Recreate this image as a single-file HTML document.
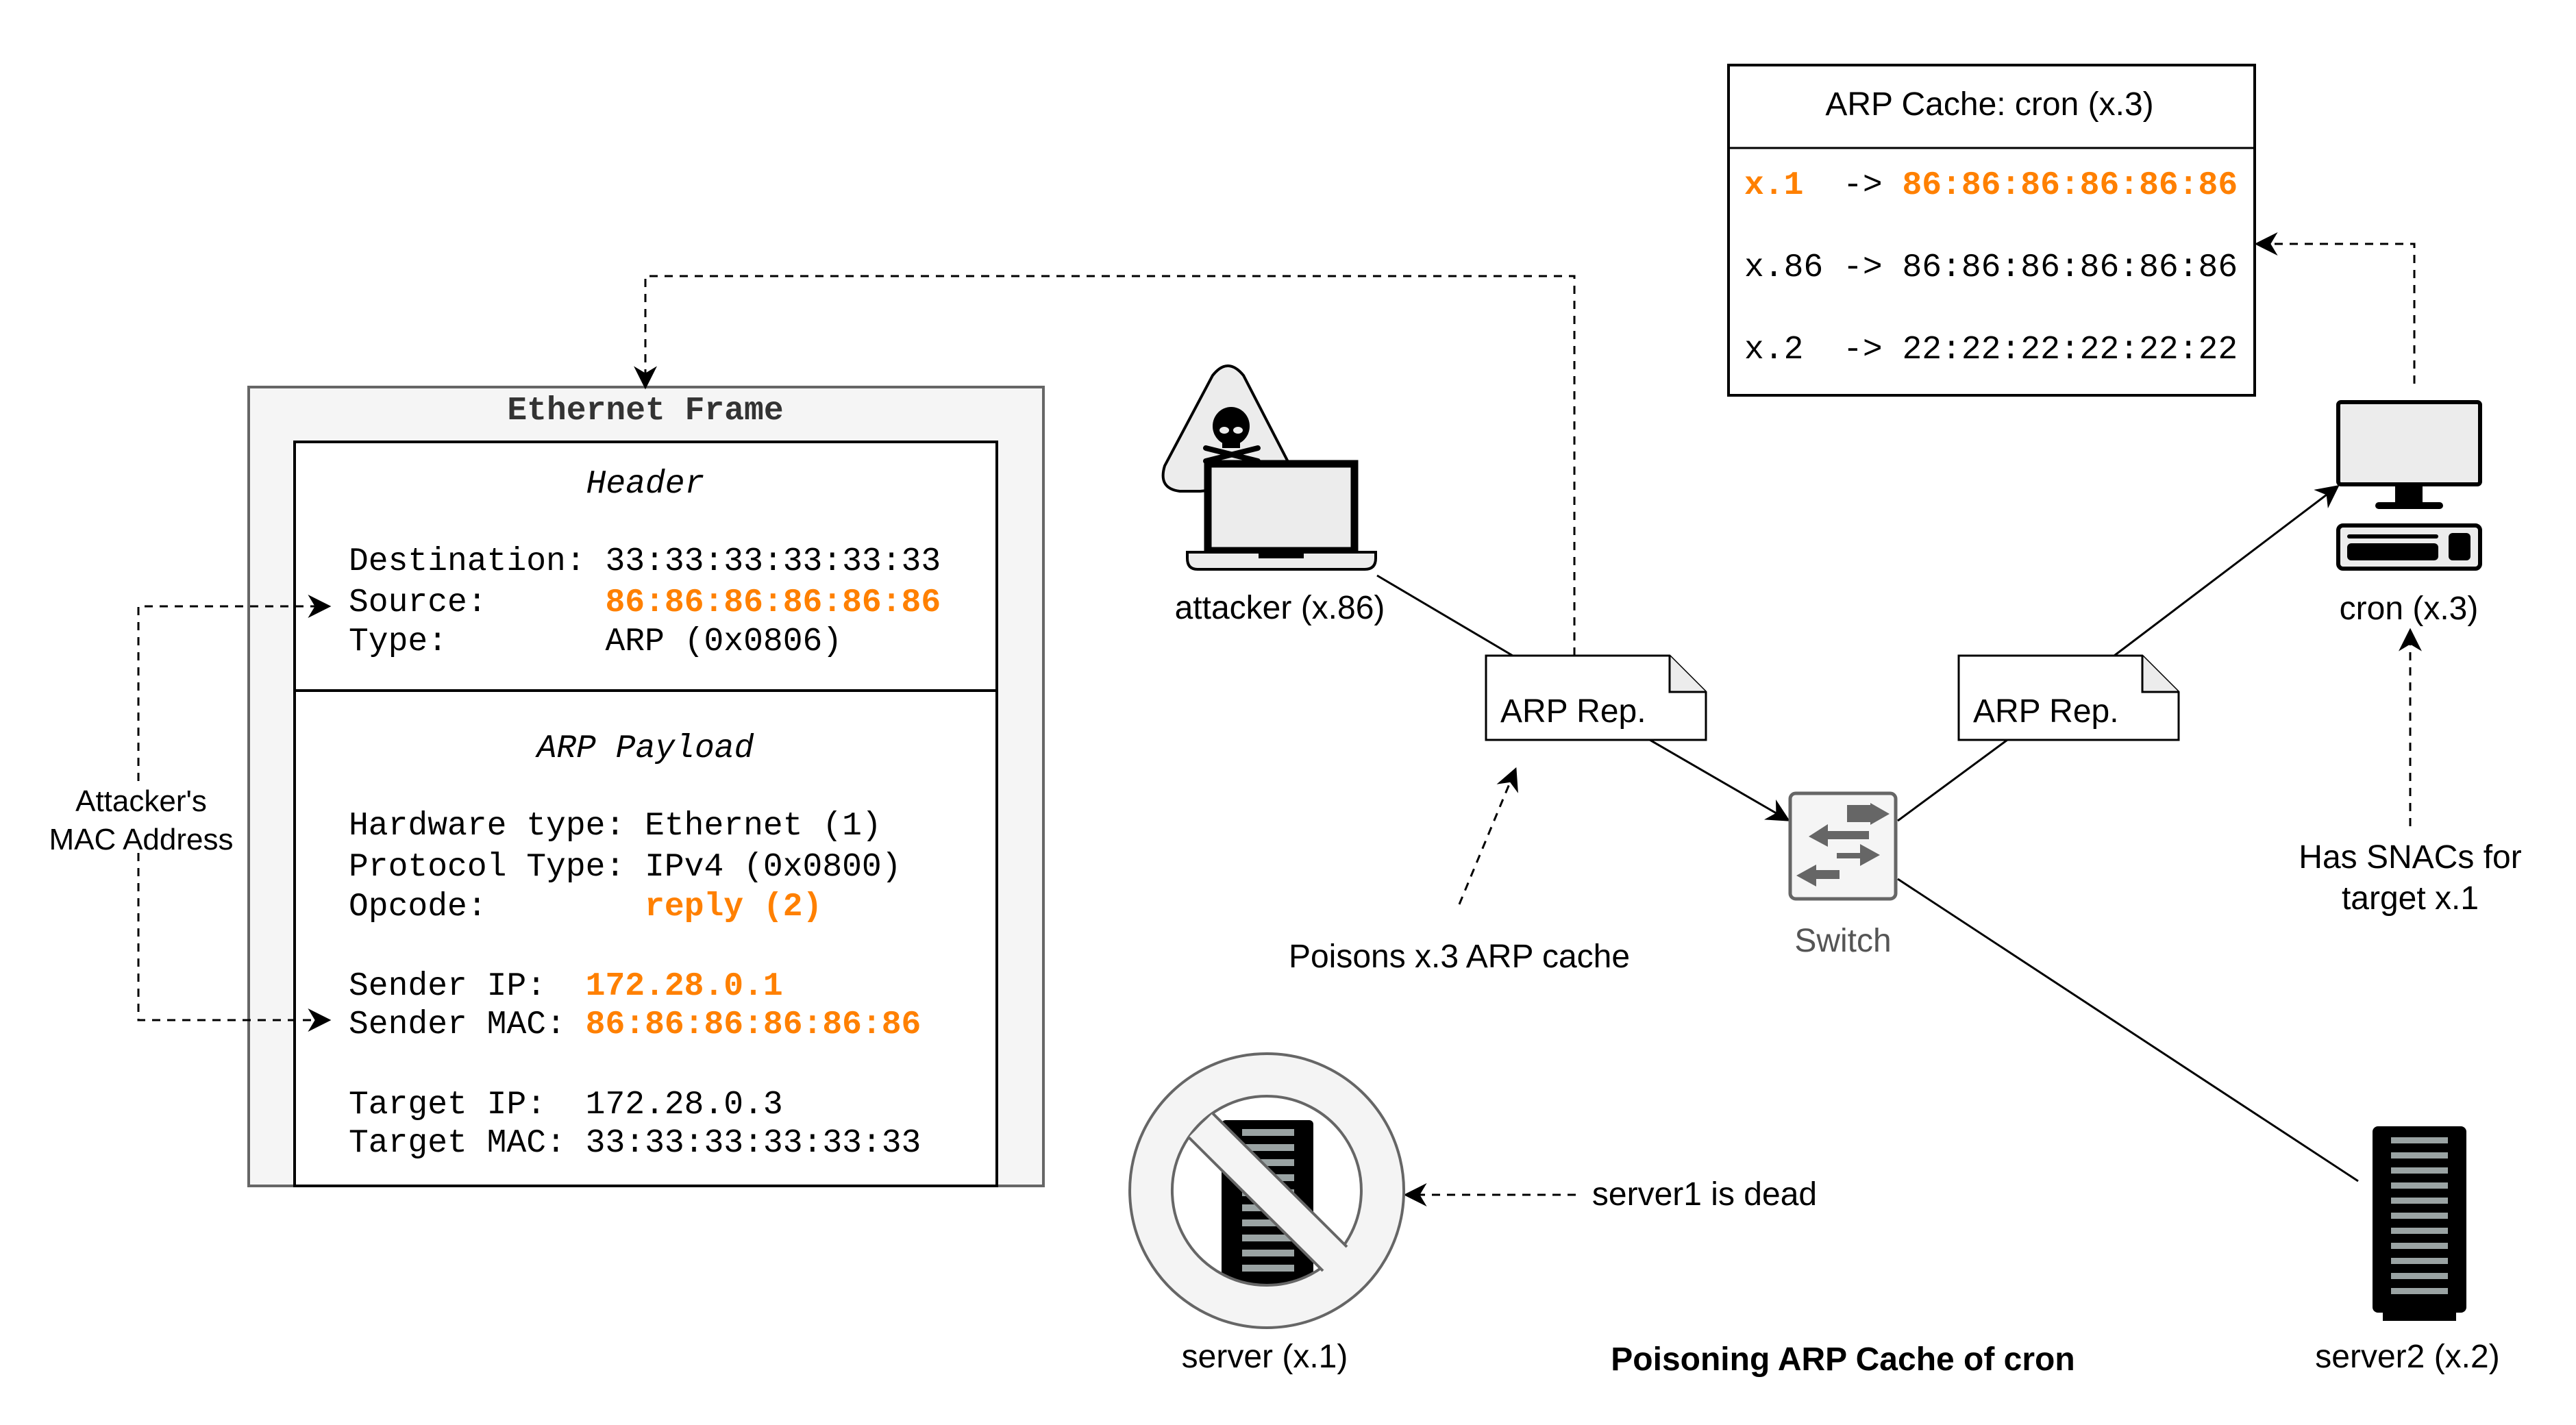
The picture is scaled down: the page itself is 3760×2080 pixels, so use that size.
<!DOCTYPE html>
<html><head><meta charset="utf-8"><style>
html,body{margin:0;padding:0;background:#fff;}
svg{display:block;}
.m{font-family:"Liberation Mono",monospace;font-size:48px;white-space:pre;}
.s{font-family:"Liberation Sans",sans-serif;font-size:48px;}
</style></head><body>
<svg width="3760" height="2080" viewBox="0 0 3760 2080" xmlns="http://www.w3.org/2000/svg">
<defs>
<marker id="b" viewBox="0 0 10 10" refX="9" refY="5" markerWidth="34" markerHeight="34" markerUnits="userSpaceOnUse" orient="auto"><path d="M0,0 L10,5 L0,10 L3,5 z" fill="#000"/></marker>
</defs>

<rect x="363" y="565" width="1160" height="1166" fill="#f5f5f5" stroke="#666" stroke-width="4"/>
<text x="942" y="612" class="m" font-weight="bold" text-anchor="middle" fill="#333">Ethernet Frame</text>
<rect x="430" y="645" width="1025" height="1086" fill="#fff" stroke="#000" stroke-width="4"/>
<line x1="430" y1="1008" x2="1455" y2="1008" stroke="#000" stroke-width="4"/>
<g fill="#000">
<text x="942" y="719" class="m" text-anchor="middle" font-style="italic">Header</text>
<text x="509" y="832" class="m">Destination: 33:33:33:33:33:33</text>
<text x="509" y="892" class="m">Source:      <tspan fill="#ff8000" font-weight="bold">86:86:86:86:86:86</tspan></text>
<text x="509" y="949" class="m">Type:        ARP (0x0806)</text>
<text x="942" y="1105" class="m" text-anchor="middle" font-style="italic">ARP Payload</text>
<text x="509" y="1218" class="m">Hardware type: Ethernet (1)</text>
<text x="509" y="1278" class="m">Protocol Type: IPv4 (0x0800)</text>
<text x="509" y="1336" class="m">Opcode:        <tspan fill="#ff8000" font-weight="bold">reply (2)</tspan></text>
<text x="509" y="1452" class="m">Sender IP:  <tspan fill="#ff8000" font-weight="bold">172.28.0.1</tspan></text>
<text x="509" y="1508" class="m">Sender MAC: <tspan fill="#ff8000" font-weight="bold">86:86:86:86:86:86</tspan></text>
<text x="509" y="1625" class="m">Target IP:  172.28.0.3</text>
<text x="509" y="1681" class="m">Target MAC: 33:33:33:33:33:33</text>
</g>

<g fill="none" stroke="#000" stroke-width="3" stroke-dasharray="12,10">
<path d="M202,1140 L202,885 L480,885" marker-end="url(#b)"/>
<path d="M202,1245 L202,1489 L480,1489" marker-end="url(#b)"/>
<path d="M2298,957 L2298,403 L942,403 L942,565" marker-end="url(#b)"/>
<path d="M3524,560 L3524,356 L3294,356" marker-end="url(#b)"/>
<path d="M3518,1206 L3518,920" marker-end="url(#b)"/>
<path d="M2130,1320 L2212,1123" marker-end="url(#b)"/>
<path d="M2300,1744 L2052,1744" marker-end="url(#b)"/>
</g>
<text x="206" y="1184" class="s" style="font-size:44px" text-anchor="middle">Attacker's</text>
<text x="206" y="1240" class="s" style="font-size:44px" text-anchor="middle">MAC Address</text>

<g stroke="#000" stroke-width="3" fill="none">
<line x1="2010" y1="840" x2="2208" y2="957"/>
<line x1="2408" y1="1080" x2="2610" y2="1197" marker-end="url(#b)"/>
<line x1="2770" y1="1198" x2="2930" y2="1080"/>
<line x1="3086" y1="957" x2="3412" y2="710" marker-end="url(#b)"/>
<line x1="2770" y1="1283" x2="3442" y2="1724"/>
</g>

<path d="M1770,548 Q1792,520 1815,548 L1895,703 L1752,717 L1722,717 Q1690,713 1700,680 Z" fill="#ececec" stroke="#000" stroke-width="4"/>
<ellipse cx="1797" cy="622" rx="27" ry="28" fill="#000"/>
<rect x="1784" y="640" width="26" height="14" fill="#000"/>
<ellipse cx="1787" cy="628" rx="7" ry="5" fill="#ececec"/>
<ellipse cx="1807" cy="628" rx="7" ry="5" fill="#ececec"/>
<line x1="1760" y1="654" x2="1836" y2="673" stroke="#000" stroke-width="8" stroke-linecap="round"/>
<line x1="1836" y1="654" x2="1760" y2="673" stroke="#000" stroke-width="8" stroke-linecap="round"/>
<rect x="1763" y="677" width="214" height="127" fill="#ececec" stroke="#000" stroke-width="11"/>
<path d="M1733,806 L2008,806 L2008,815 Q2008,831 1992,831 L1748,831 Q1733,831 1733,815 Z" fill="#ececec" stroke="#000" stroke-width="4"/>
<rect x="1837" y="806" width="66" height="9" fill="#000"/>
<text x="1868" y="903" class="s" text-anchor="middle">attacker (x.86)</text>

<path d="M2169,957 L2437,957 L2490,1010 L2490,1080 L2169,1080 Z" fill="#fff" stroke="#000" stroke-width="3"/>
<path d="M2437,957 L2437,1010 L2490,1010" fill="#ececec" stroke="#000" stroke-width="3"/>
<text x="2190" y="1054" class="s">ARP Rep.</text>
<path d="M2859,957 L3127,957 L3180,1010 L3180,1080 L2859,1080 Z" fill="#fff" stroke="#000" stroke-width="3"/>
<path d="M3127,957 L3127,1010 L3180,1010" fill="#ececec" stroke="#000" stroke-width="3"/>
<text x="2880" y="1054" class="s">ARP Rep.</text>
<text x="2130" y="1412" class="s" text-anchor="middle">Poisons x.3 ARP cache</text>

<rect x="2613" y="1158" width="154" height="154" rx="8" fill="#f5f5f5" stroke="#666" stroke-width="5"/>
<g fill="#666">
<path d="M2696,1175 L2730,1175 L2730,1172 L2758,1188 L2730,1204 L2730,1200 L2696,1200 Z"/>
<path d="M2700,1210 L2640,1210 L2640,1200 L2612,1218 L2640,1233 L2640,1222 L2700,1222 Z" transform="translate(28,3)"/>
<path d="M2681,1245 L2715,1245 L2715,1232 L2744,1248 L2715,1264 L2715,1253 L2681,1253 Z"/>
<path d="M2685,1270 L2651,1270 L2651,1262 L2622,1278 L2651,1294 L2651,1283 L2685,1283 Z"/>
</g>
<text x="2690" y="1389" class="s" text-anchor="middle" fill="#555">Switch</text>

<rect x="2523" y="95" width="768" height="482" fill="#fff" stroke="#000" stroke-width="4"/>
<line x1="2523" y1="216" x2="3291" y2="216" stroke="#000" stroke-width="3"/>
<text x="2904" y="168" class="s" text-anchor="middle">ARP Cache: cron (x.3)</text>
<text x="2546" y="283" class="m"><tspan fill="#ff8000" font-weight="bold">x.1 </tspan> -&gt; <tspan fill="#ff8000" font-weight="bold">86:86:86:86:86:86</tspan></text>
<text x="2546" y="403" class="m">x.86 -&gt; 86:86:86:86:86:86</text>
<text x="2546" y="523" class="m">x.2  -&gt; 22:22:22:22:22:22</text>

<rect x="3413" y="587" width="207" height="120" rx="4" fill="#ececec" stroke="#000" stroke-width="6"/>
<rect x="3496" y="707" width="40" height="28" fill="#000"/>
<rect x="3467" y="733" width="99" height="10" rx="5" fill="#000"/>
<rect x="3413" y="767" width="207" height="63" rx="7" fill="#ececec" stroke="#000" stroke-width="6"/>
<rect x="3426" y="780" width="133" height="6" rx="3" fill="#000"/>
<rect x="3426" y="793" width="133" height="25" rx="6" fill="#000"/>
<rect x="3574" y="778" width="32" height="40" rx="6" fill="#000"/>
<text x="3516" y="904" class="s" text-anchor="middle">cron (x.3)</text>
<text x="3518" y="1267" class="s" text-anchor="middle">Has SNACs for</text>
<text x="3518" y="1327" class="s" text-anchor="middle">target x.1</text>

<rect x="1783" y="1635" width="134" height="245" rx="6" fill="#000"/>
<g fill="#9aa3a3">
<rect x="1813" y="1648" width="76" height="10"/><rect x="1813" y="1670" width="76" height="10"/>
<rect x="1813" y="1692" width="76" height="10"/><rect x="1813" y="1714" width="76" height="10"/>
<rect x="1813" y="1736" width="76" height="10"/><rect x="1813" y="1758" width="76" height="10"/>
<rect x="1813" y="1780" width="76" height="10"/><rect x="1813" y="1802" width="76" height="10"/>
<rect x="1813" y="1824" width="76" height="10"/><rect x="1813" y="1846" width="76" height="10"/>
</g>
<path fill="#f4f4f4" fill-rule="evenodd" stroke="#666" stroke-width="4" d="M1849,1538 a200,200 0 1,0 0.1,0 Z M1849,1600 a138,138 0 1,1 -0.1,0 Z"/>
<path d="M1770,1625 L1966,1820 L1931,1855 L1735,1660 Z" fill="#f4f4f4"/>
<line x1="1770" y1="1625" x2="1966" y2="1820" stroke="#666" stroke-width="4"/>
<line x1="1735" y1="1660" x2="1931" y2="1855" stroke="#666" stroke-width="4"/>
<text x="1846" y="1996" class="s" text-anchor="middle">server (x.1)</text>
<text x="2488" y="1759" class="s" text-anchor="middle">server1 is dead</text>

<rect x="3463" y="1644" width="137" height="272" rx="8" fill="#000"/>
<rect x="3478" y="1914" width="107" height="14" fill="#000"/>
<g fill="#9aa3a3">
<rect x="3490" y="1660" width="83" height="9"/><rect x="3490" y="1682" width="83" height="9"/>
<rect x="3490" y="1704" width="83" height="9"/><rect x="3490" y="1726" width="83" height="9"/>
<rect x="3490" y="1748" width="83" height="9"/><rect x="3490" y="1770" width="83" height="9"/>
<rect x="3490" y="1792" width="83" height="9"/><rect x="3490" y="1814" width="83" height="9"/>
<rect x="3490" y="1836" width="83" height="9"/><rect x="3490" y="1858" width="83" height="9"/>
<rect x="3490" y="1880" width="83" height="9"/>
</g>
<text x="3514" y="1996" class="s" text-anchor="middle">server2 (x.2)</text>

<text x="2690" y="2000" class="s" font-weight="bold" text-anchor="middle">Poisoning ARP Cache of cron</text>
</svg>
</body></html>
